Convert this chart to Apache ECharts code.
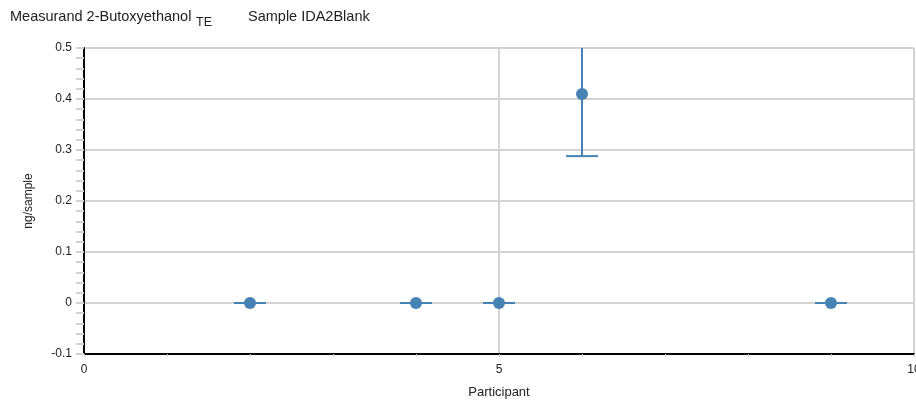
<!DOCTYPE html>
<html><head><meta charset="utf-8">
<script src="https://cdn.jsdelivr.net/npm/echarts@6/dist/echarts.min.js"></script>
<style>html,body{margin:0;padding:0;background:#fff}#c{width:916px;height:405px}</style>
</head><body><div id="c"></div>
<script>
var participants = [2, 4, 5, 6, 9];
var values = [0, 0, 0, 0.41, 0];
var lower = [0, 0, 0, 0.288, 0];
var upper = [0, 0, 0, 0.532, 0];
var xTicks = [0, 5, 10];
var yTicks = [-0.1, 0, 0.1, 0.2, 0.3, 0.4, 0.5];

var color = '#4682B4';
var chart = echarts.init(document.getElementById('c'), null, {renderer: 'canvas'});
var pts = participants.map(function (p, i) { return [p, values[i]]; });
var errs = participants.map(function (p, i) { return [p, lower[i], upper[i]]; });
var font = 'Liberation Sans, Arial, sans-serif';
var tf = '14.5px ' + font;

chart.setOption({
  animation: false,
  grid: {left: 84, right: 2, top: 48, bottom: 51, containLabel: false, outerBoundsMode: 'none'},
  graphic: [
    {type: 'text', left: 10, top: 9, style: {text: 'Measurand 2-Butoxyethanol', font: tf, fill: '#222'}},
    {type: 'text', left: 196, top: 16, style: {text: 'TE', font: '12.5px ' + font, fill: '#222'}},
    {type: 'text', left: 248, top: 9, style: {text: 'Sample IDA2Blank', font: tf, fill: '#222'}}
  ],
  xAxis: {
    type: 'value', min: xTicks[0], max: xTicks[xTicks.length - 1], interval: 5,
    name: 'Participant', nameLocation: 'middle', nameGap: 32,
    nameTextStyle: {fontFamily: font, fontSize: 13, color: '#222'},
    axisLine: {show: true, onZero: false, lineStyle: {color: '#000', width: 2}},
    axisTick: {show: true, length: 3, lineStyle: {color: '#ccc'}},
    minorTick: {show: true, splitNumber: 5, length: 3, lineStyle: {color: '#ccc'}},
    axisLabel: {fontFamily: font, fontSize: 12, color: '#222', margin: 10},
    splitLine: {show: true, lineStyle: {color: '#d3d3d3', width: 2}}
  },
  yAxis: {
    type: 'value', min: yTicks[0], max: yTicks[yTicks.length - 1], interval: 0.1,
    name: 'ng/sample', nameLocation: 'middle', nameGap: 49, nameRotate: 90,
    nameTextStyle: {fontFamily: font, fontSize: 12, color: '#222'},
    axisLine: {show: true, onZero: false, lineStyle: {color: '#000', width: 2}},
    axisTick: {show: true, length: 8, lineStyle: {color: '#d3d3d3', width: 2}},
    minorTick: {show: true, splitNumber: 5, length: 8, lineStyle: {color: '#d3d3d3', width: 2}},
    axisLabel: {fontFamily: font, fontSize: 12, color: '#222', margin: 12,
      formatter: function (v) { return String(Math.round(v * 10) / 10); }},
    splitLine: {show: true, lineStyle: {color: '#d3d3d3', width: 2}}
  },
  series: [
    {
      type: 'custom', clip: true, z: 2,
      data: errs,
      renderItem: function (params, api) {
        var x = api.value(0), lo = api.value(1), hi = api.value(2);
        var pLo = api.coord([x, lo]), pHi = api.coord([x, hi]);
        var w = 16;
        var st = {stroke: color, lineWidth: 2};
        return {type: 'group', children: [
          {type: 'line', shape: {x1: pLo[0], y1: pLo[1], x2: pHi[0], y2: pHi[1]}, style: st},
          {type: 'line', shape: {x1: pLo[0] - w, y1: pLo[1], x2: pLo[0] + w, y2: pLo[1]}, style: st},
          {type: 'line', shape: {x1: pHi[0] - w, y1: pHi[1], x2: pHi[0] + w, y2: pHi[1]}, style: st}
        ]};
      }
    },
    {
      type: 'scatter', z: 3, data: pts, symbol: 'circle', symbolSize: 12,
      itemStyle: {color: color, opacity: 1}
    }
  ]
});
</script></body></html>
